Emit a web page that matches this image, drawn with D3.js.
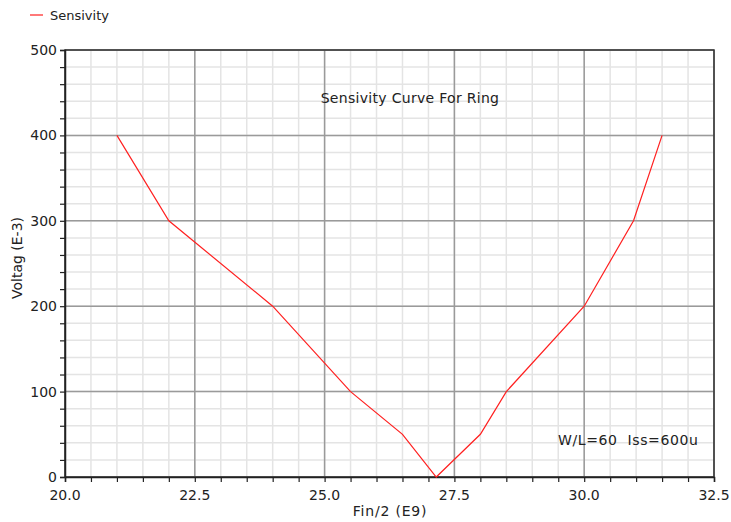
<!DOCTYPE html>
<html>
<head>
<meta charset="utf-8">
<script src="https://cdn.jsdelivr.net/npm/d3@7"></script>
<style>
  body { margin: 0; background: #fff; }
  svg { font-family: "DejaVu Sans", sans-serif; }
</style>
</head>
<body>
<svg width="731" height="522"></svg>
<script>
(function () {
    // data
    var freq = [21, 22, 24, 25.5, 26.5, 27.15, 28, 28.5, 30, 30.95, 31.5];
    var volt = [400, 300, 200, 100, 50, 0, 50, 100, 200, 300, 400];
    var xTicks = [20.0, 22.5, 25.0, 27.5, 30.0, 32.5];
    var yTicks = [0, 100, 200, 300, 400, 500];

    var svg = d3.select('svg');
    var left = 65, right = 714, top = 50, bottom = 477;

    var x = d3.scaleLinear().domain([20, 32.5]).range([left, right]);
    var y = d3.scaleLinear().domain([0, 500]).range([bottom, top]);

    var xMinor = d3.range(20, 32.5 + 1e-9, 0.5);
    var yMinor = d3.range(0, 500 + 1e-9, 20);

    // minor grid
    svg.append('g').selectAll('line')
        .data(xMinor)
        .enter().append('line')
        .attr('x1', function(d) { return x(d); })
        .attr('x2', function(d) { return x(d); })
        .attr('y1', top).attr('y2', bottom)
        .attr('stroke', '#e4e4e4').attr('stroke-width', 1.5);
    svg.append('g').selectAll('line')
        .data(yMinor)
        .enter().append('line')
        .attr('y1', function(d) { return y(d); })
        .attr('y2', function(d) { return y(d); })
        .attr('x1', left).attr('x2', right)
        .attr('stroke', '#e4e4e4').attr('stroke-width', 1.5);

    // major grid
    svg.append('g').selectAll('line')
        .data(xTicks)
        .enter().append('line')
        .attr('x1', function(d) { return x(d); })
        .attr('x2', function(d) { return x(d); })
        .attr('y1', top).attr('y2', bottom)
        .attr('stroke', '#9a9a9a').attr('stroke-width', 1.5);
    svg.append('g').selectAll('line')
        .data(yTicks)
        .enter().append('line')
        .attr('y1', function(d) { return y(d); })
        .attr('y2', function(d) { return y(d); })
        .attr('x1', left).attr('x2', right)
        .attr('stroke', '#9a9a9a').attr('stroke-width', 1.5);

    // frame
    svg.append('rect')
        .attr('x', left).attr('y', top)
        .attr('width', right - left).attr('height', bottom - top)
        .attr('fill', 'none').attr('stroke', '#333').attr('stroke-width', 1.5);

    // axes with minor ticks
    var xAxis = svg.append('g')
        .attr('transform', 'translate(0,' + bottom + ')')
        .call(d3.axisBottom(x).tickValues(xMinor).tickSize(5).tickFormat(''));
    var yAxis = svg.append('g')
        .attr('transform', 'translate(' + left + ',0)')
        .call(d3.axisLeft(y).tickValues(yMinor).tickSize(5).tickFormat(''));
    [xAxis, yAxis].forEach(function(a) {
        a.select('.domain').attr('stroke', '#222').attr('stroke-width', 1.5);
        a.selectAll('.tick line').attr('stroke', '#222').attr('stroke-width', 1.2);
    });

    svg.append('g').selectAll('text')
        .data(xTicks)
        .enter().append('text')
        .attr('x', function(d) { return x(d); })
        .attr('y', 500)
        .attr('text-anchor', 'middle')
        .attr('font-size', 14)
        .attr('fill', '#222')
        .text(function(d) { return d.toFixed(1); });
    svg.append('g').selectAll('text')
        .data(yTicks)
        .enter().append('text')
        .attr('x', 57)
        .attr('y', function(d) { return y(d) + 5; })
        .attr('text-anchor', 'end')
        .attr('font-size', 14)
        .attr('fill', '#222')
        .text(function(d) { return d; });

    // axis titles
    svg.append('text')
        .attr('x', 390).attr('y', 516)
        .attr('text-anchor', 'middle')
        .attr('font-size', 14).attr('fill', '#222')
        .attr('letter-spacing', 0.8)
        .text('Fin/2 (E9)');
    svg.append('text')
        .attr('transform', 'translate(22,258) rotate(-90)')
        .attr('text-anchor', 'middle')
        .attr('font-size', 14).attr('fill', '#222')
        .text('Voltag (E-3)');

    // curve
    var line = d3.line()
        .x(function(d, i) { return x(freq[i]); })
        .y(function(d) { return y(d); });
    svg.append('path')
        .datum(volt)
        .attr('d', line)
        .attr('fill', 'none')
        .attr('stroke', '#ff2020')
        .attr('stroke-width', 1.2);

    // annotations
    svg.append('text')
        .attr('x', 410).attr('y', 103)
        .attr('text-anchor', 'middle')
        .attr('font-size', 14).attr('fill', '#222')
        .attr('letter-spacing', 0.3)
        .text('Sensivity Curve For Ring');
    svg.append('text')
        .attr('x', 558).attr('y', 445)
        .attr('font-size', 14).attr('fill', '#222')
        .attr('letter-spacing', 0.6)
        .style('white-space', 'pre')
        .text('W/L=60  Iss=600u');

    // legend
    svg.append('line')
        .attr('x1', 30).attr('x2', 43)
        .attr('y1', 15).attr('y2', 15)
        .attr('stroke', '#ff2020').attr('stroke-width', 1.2);
    svg.append('text')
        .attr('x', 50).attr('y', 20)
        .attr('font-size', 13).attr('fill', '#222')
        .text('Sensivity');
}());
</script>
</body>
</html>
